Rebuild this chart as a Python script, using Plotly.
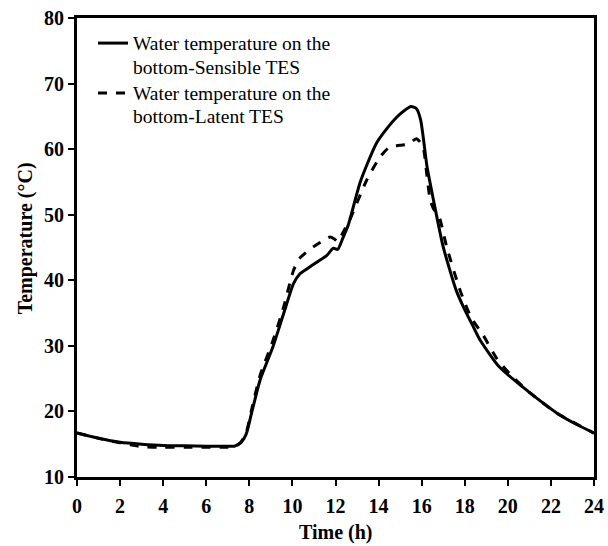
import plotly.graph_objects as go

time_sensible = [0, 1, 2, 3, 4, 5, 6, 7, 7.3, 7.6, 7.85, 8.1, 8.5, 9.1, 9.6, 10.05, 10.35, 10.7,
                 11.2, 11.6, 11.9, 12.1, 12.35, 12.6, 13.15, 13.9, 14.4, 14.85, 15.2, 15.5, 15.75,
                 15.95, 16.25, 16.55, 17.0, 17.6, 17.93, 18.4, 18.71, 19.6, 20.7, 22.3, 23.2, 24]
temp_sensible = [16.7, 15.9, 15.3, 15.0, 14.8, 14.75, 14.7, 14.7, 14.7, 15.2, 16.5, 19.7, 24.8,
                 29.9, 35.0, 39.5, 41.0, 41.8, 42.9, 43.8, 44.9, 44.7, 46.5, 48.5, 55.0, 60.9,
                 63.2, 64.9, 65.9, 66.5, 66.2, 64.5, 57.3, 52.2, 45.1, 38.5, 36.0, 32.9, 30.9,
                 26.8, 23.7, 19.7, 18.0, 16.7]

time_latent = [0, 1, 2, 2.5, 3, 4, 5, 6, 7, 7.3, 7.6, 7.85, 8.1, 8.5, 9.1, 9.6, 10.05, 10.35,
               10.97, 11.4, 11.75, 11.95, 12.1, 12.35, 12.7, 13.45, 14.07, 14.5, 15.0, 15.4,
               15.75, 15.95, 16.1, 16.25, 16.4, 16.55, 16.8, 17.16, 17.78, 18.3, 18.86, 19.5,
               20.1, 21, 22.3, 24]
temp_latent = [16.7, 15.9, 15.2, 14.9, 14.6, 14.55, 14.55, 14.55, 14.55, 14.6, 15.3, 16.7, 20.2,
               25.5, 30.8, 36.0, 41.5, 43.4, 45.1, 46.0, 46.6, 46.3, 45.9, 47.3, 49.5, 55.3,
               58.8, 60.3, 60.6, 60.8, 61.6, 61.0, 59.8, 55.8, 52.2, 50.9, 49.8, 45.1, 38.5,
               34.3, 31.6, 28.0, 25.7, 22.9, 19.7, 16.7]

x_ticks = list(range(0, 25, 2))
y_ticks = list(range(10, 81, 10))

series_names = ["Water temperature on the<br>bottom-Sensible TES",
                "Water temperature on the<br>bottom-Latent TES"]
x_title = "Time (h)"
y_title = "Temperature (°C)"

font_family = "Liberation Serif"


def big(label):
    return "<br>".join('<span style="font-size:19.5px">%s</span>' % part
                       for part in label.split("<br>"))


fig = go.Figure()
fig.add_trace(go.Scatter(
    x=time_sensible, y=temp_sensible, mode="lines",
    name=big(series_names[0]),
    line=dict(color="black", width=3, shape="spline", smoothing=0.6),
))
fig.add_trace(go.Scatter(
    x=time_latent, y=temp_latent, mode="lines",
    name=big(series_names[1]),
    line=dict(color="black", width=3, dash="dash", shape="spline", smoothing=0.6),
))

axis_common = dict(
    showline=True, linecolor="black", linewidth=3, mirror=True,
    ticks="outside", ticklen=6, tickwidth=2, tickcolor="black",
    showgrid=False, zeroline=False, automargin=False,
    tickfont=dict(family=font_family, size=20, color="black", weight="bold"),
)

fig.update_layout(
    width=608, height=546,
    margin=dict(l=77, r=14, t=18, b=69),
    paper_bgcolor="white", plot_bgcolor="white",
    font=dict(family=font_family, color="black"),
    xaxis=dict(range=[0, 24], tickvals=x_ticks, ticktext=[str(v) for v in x_ticks],
               ticklabelstandoff=3, **axis_common),
    yaxis=dict(range=[10, 80], tickvals=y_ticks, ticktext=[str(v) for v in y_ticks],
               **axis_common),
    legend=dict(x=0.031, y=0.985, xanchor="left", yanchor="top", bgcolor="rgba(0,0,0,0)",
                font=dict(family=font_family, size=18, color="black"),
                valign="top"),
    showlegend=True,
    annotations=[
        dict(text=x_title, xref="paper", yref="paper", x=0.5, y=-0.122,
             xanchor="center", yanchor="middle", showarrow=False,
             font=dict(family=font_family, size=20, color="black", weight="bold")),
        dict(text=y_title, xref="paper", yref="paper", x=-0.1006, y=0.52,
             xanchor="center", yanchor="middle", showarrow=False, textangle=-90,
             font=dict(family=font_family, size=20, color="black", weight="bold")),
    ],
)

fig.write_html("out.html")
